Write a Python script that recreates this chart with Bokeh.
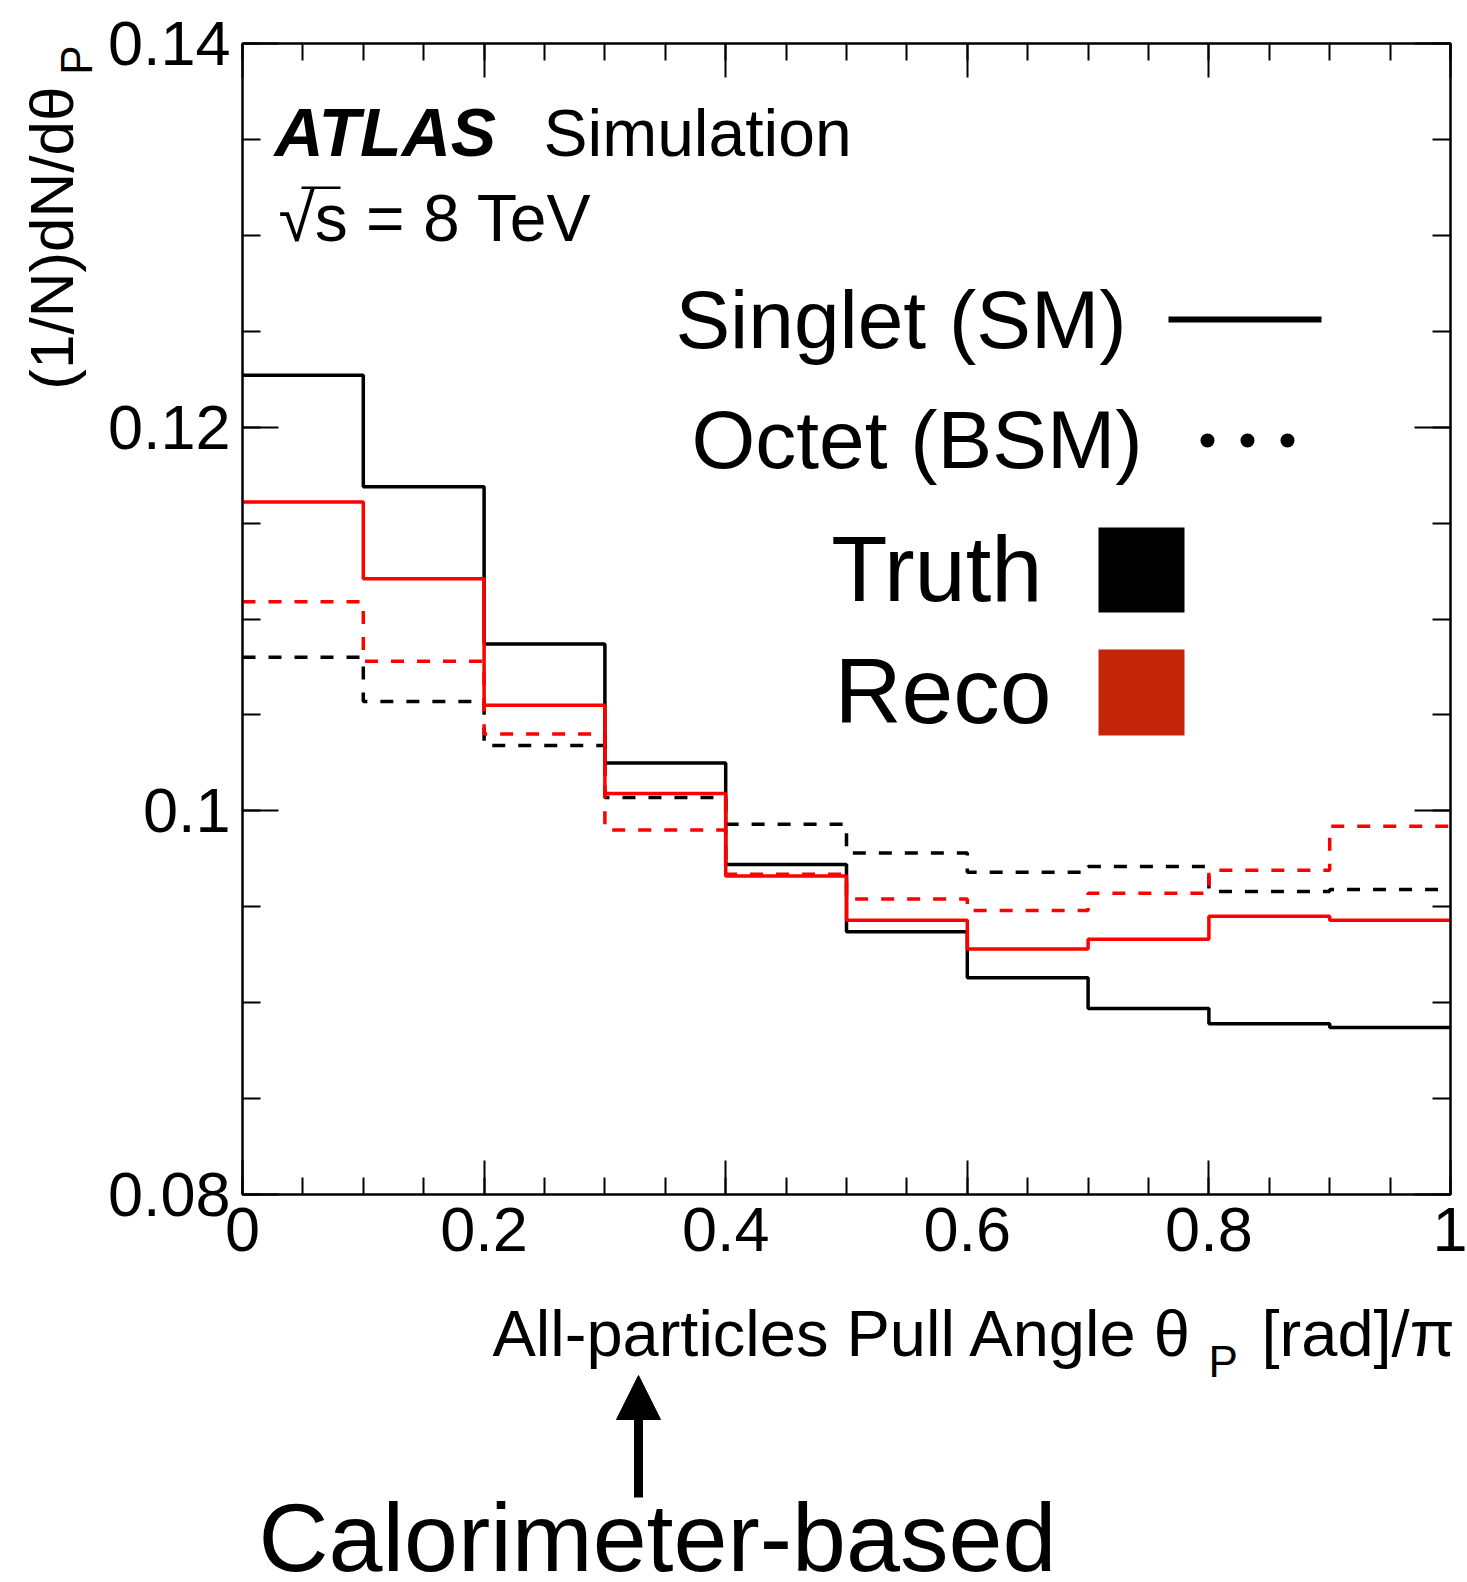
import numpy as np
from bokeh.plotting import figure
from bokeh.layouts import column, row
from bokeh.models import (Range1d, LinearAxis, FixedTicker, CustomJSTickFormatter,
                          Label, BoxAnnotation, Arrow, NormalHead)
from bokeh.embed import file_html
from bokeh.resources import INLINE

# Pull-angle histograms (normalised per bin), 10 bins on [0, 1]
bin_edges = [0.0, 0.1, 0.2, 0.3, 0.4, 0.5, 0.6, 0.7, 0.8, 0.9, 1.0]
truth_singlet = [0.1227, 0.1169, 0.1087, 0.1025, 0.0972, 0.0937, 0.0913, 0.0897, 0.0889, 0.0887]
reco_singlet = [0.1161, 0.1121, 0.1055, 0.1009, 0.0966, 0.0943, 0.0928, 0.0933, 0.0945, 0.0943]
truth_octet = [0.1080, 0.1057, 0.1034, 0.1007, 0.0993, 0.0978, 0.0968, 0.0971, 0.0958, 0.0959]
reco_octet = [0.1109, 0.1078, 0.1040, 0.0990, 0.0967, 0.0954, 0.0948, 0.0957, 0.0969, 0.0992]

x_major = [0.0, 0.2, 0.4, 0.6, 0.8, 1.0]
y_major = [0.08, 0.10, 0.12, 0.14]

W, H = 1467, 1582
SIDE_W = 102          # strip holding the vertical axis title
MAIN_H = 1290         # height of the histogram panel
LEFT, RIGHT, TOP, BOTTOM = 242, 1450, 43, 1194   # frame edges on the page
FONT = "Liberation Sans"
RED = "#ff0000"
LW = 3.5
BASE = 0.37           # label anchor sits this many em above the text baseline


def make_label(text, x, y, size, units, align="left", style="normal", angle=0.0):
    return Label(x=x, y=y, x_units=units, y_units=units, text=text,
                 text_font=FONT, text_font_size=f"{size}px", text_font_style=style,
                 text_align=align, text_baseline="alphabetic", text_color="black",
                 angle=angle)


# ---------------- histogram panel ----------------
p = figure(width=W - SIDE_W, height=MAIN_H, x_range=Range1d(0, 1), y_range=Range1d(0.08, 0.14),
           output_backend="svg", toolbar_location=None,
           min_border_left=LEFT - SIDE_W, min_border_right=W - RIGHT,
           min_border_top=TOP, min_border_bottom=MAIN_H - BOTTOM,
           background_fill_color="white", border_fill_color="white")
p.grid.visible = False
p.outline_line_color = "black"
p.outline_line_width = 2

x_ticker = FixedTicker(ticks=x_major, minor_ticks=list(np.round(np.arange(0, 1.0001, 0.05), 3)))
y_ticker = FixedTicker(ticks=y_major, minor_ticks=list(np.round(np.arange(0.08, 0.14001, 0.005), 4)))
num_fmt = CustomJSTickFormatter(code="return String(Math.round(tick * 1000) / 1000);")
blank_fmt = CustomJSTickFormatter(code="return '';")

p.add_layout(LinearAxis(), "above")
p.add_layout(LinearAxis(), "right")

for ax in p.xaxis:
    ax.ticker = x_ticker
    ax.major_tick_in, ax.major_tick_out = 34, 0
    ax.minor_tick_in, ax.minor_tick_out = 17, 0
for ax in p.yaxis:
    ax.ticker = y_ticker
    ax.major_tick_in, ax.major_tick_out = 36, 0
    ax.minor_tick_in, ax.minor_tick_out = 18, 0
for ax in list(p.xaxis) + list(p.yaxis):
    ax.axis_line_width = 2
    ax.major_tick_line_width = 2
    ax.minor_tick_line_width = 2
    ax.major_label_text_font = FONT
    ax.major_label_text_font_size = "63px"
    ax.major_label_text_color = "black"
    ax.formatter = blank_fmt

p.below[0].formatter = num_fmt
p.below[0].major_label_standoff = 13
p.left[0].formatter = num_fmt
p.left[0].major_label_standoff = 12


def steps(vals):
    return list(vals) + [vals[-1]]


p.step(bin_edges, steps(truth_octet), mode="after", line_color="black", line_width=LW, line_dash="13 13")
p.step(bin_edges, steps(reco_octet), mode="after", line_color=RED, line_width=LW, line_dash="13 13")
p.step(bin_edges, steps(truth_singlet), mode="after", line_color="black", line_width=LW)
p.step(bin_edges, steps(reco_singlet), mode="after", line_color=RED, line_width=LW)


def main_label(text, px, py, size, **kw):
    # px, py: text start/end and baseline on the page
    p.add_layout(make_label(text, px - LEFT, BOTTOM - py + BASE * size, size, "screen", **kw))


def box(l, r, t, b, color="black", radius=0):
    p.add_layout(BoxAnnotation(left=l - LEFT, right=r - LEFT, top=BOTTOM - t, bottom=BOTTOM - b,
                               left_units="screen", right_units="screen",
                               top_units="screen", bottom_units="screen",
                               fill_color=color, fill_alpha=1.0, line_color=None,
                               border_radius=radius, level="overlay"))


# ATLAS header
main_label("ATLAS", 274, 157, 68, style="bold italic")
main_label("Simulation", 543, 157, 66)
main_label("√s = 8 TeV", 278, 242, 66)
box(301, 340, 186, 188.5)

# legend
main_label("Singlet (SM)", 1126, 349, 82, align="right")
main_label("Octet (BSM)", 1142, 469, 82, align="right")
main_label("Truth", 1042, 603, 92, align="right")
main_label("Reco", 1051, 725, 93, align="right")
box(1168, 1321, 316, 322)
for cx in (1207, 1247, 1287):
    box(cx - 7, cx + 7, 433, 447, radius=7)
box(1098, 1184, 527, 612)
box(1098, 1184, 649, 735, color="#c42408")

# ---------------- vertical axis title strip ----------------
side = figure(width=SIDE_W, height=MAIN_H, x_range=Range1d(0, SIDE_W), y_range=Range1d(0, MAIN_H),
              output_backend="svg", toolbar_location=None, min_border=0,
              x_axis_location=None, y_axis_location=None,
              background_fill_color="white", border_fill_color="white", outline_line_color=None)
side.grid.visible = False


def side_label(text, px, py, size, **kw):
    # vertical text anchored at (px, py) on the page, reading upwards
    side.add_layout(make_label(text, px, MAIN_H - py, size, "data", angle=np.pi / 2, **kw))


side_label("(1/N)dN/dθ", 51, 388, 62)
side_label("P", 76, 35, 44)

# ---------------- footer: axis title, arrow, caption ----------------
FOOT_H = H - MAIN_H
foot = figure(width=W, height=FOOT_H, x_range=Range1d(0, W), y_range=Range1d(0, FOOT_H),
              output_backend="svg", toolbar_location=None, min_border=0,
              x_axis_location=None, y_axis_location=None,
              background_fill_color="white", border_fill_color="white", outline_line_color=None)
foot.grid.visible = False


def foot_label(text, px, py, size, **kw):
    foot.add_layout(make_label(text, px, H - py + BASE * size, size, "data", **kw))


foot_label("All-particles Pull Angle θ", 492, 1357, 65)
foot_label("P", 1208, 1377, 44)
foot_label("[rad]/π", 1454, 1357, 65, align="right")

foot.add_layout(Arrow(end=NormalHead(size=44, fill_color="black", line_color="black"),
                      x_start=638, y_start=H - 1497, x_end=638, y_end=H - 1375,
                      line_color="black", line_width=9))
foot_label("Calorimeter-based", 258, 1573, 97)

layout = column(row(side, p, spacing=0), foot, spacing=0)
open("out.html", "w").write(file_html(layout, INLINE))
